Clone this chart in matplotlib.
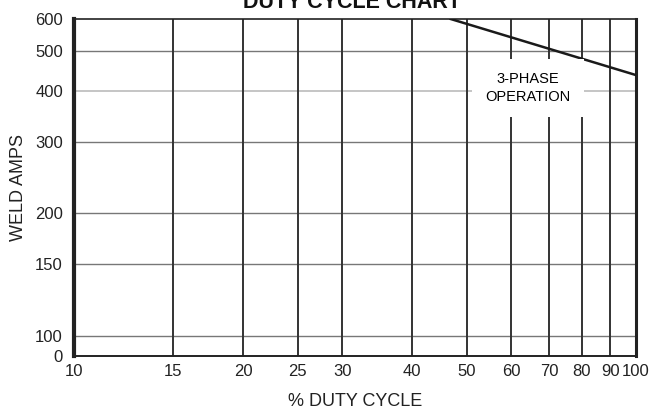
import matplotlib.pyplot as plt
from matplotlib.ticker import FixedLocator, NullLocator

plt.rcParams['font.family'] = ['Liberation Sans', 'DejaVu Sans']

duty_ticks = [10, 15, 20, 25, 30, 40, 50, 60, 70, 80, 90, 100]
duty_lines = [15, 20, 25, 30, 40, 50, 60, 70, 80, 90, 100]
amp_ticks = [89.3, 100, 150, 200, 300, 400, 500, 600]
amp_labels = ['0', '100', '150', '200', '300', '400', '500', '600']
amp_grid = [100, 150, 200, 300, 500]

# rating line (3-phase)
duty = [46.8, 100]
amps = [600, 437]

fig = plt.figure(figsize=(6.52, 4.18), dpi=100)
ax = fig.add_axes([74/652, 1-356/418, (636-74)/652, (356-19)/418])
ax.set_xscale('log')
ax.set_yscale('log')
ax.set_xlim(10, 100)
ax.set_ylim(89.3, 600)

for h in amp_grid:
    ax.axhline(h, color='#777777', lw=1.0, zorder=1)
ax.axhline(400, color='#bbbbbb', lw=1.2, zorder=1)
for d in duty_lines:
    ax.axvline(d, color='#333333', lw=1.4, zorder=1)

ax.plot(duty, amps, color='#1a1a1a', lw=1.8, zorder=3)

# label box sits over the grid, in pixel coords
ax.text(528, 418-88, '3-PHASE\nOPERATION', transform=None, fontsize=10.5,
        ha='center', va='center', linespacing=1.3, zorder=4,
        bbox=dict(boxstyle='square,pad=0.9', fc='white', ec='none'))

ax.xaxis.set_major_locator(FixedLocator(duty_ticks))
ax.xaxis.set_minor_locator(NullLocator())
ax.set_xticklabels([str(t) for t in duty_ticks])
ax.yaxis.set_major_locator(FixedLocator(amp_ticks))
ax.yaxis.set_minor_locator(NullLocator())
ax.set_yticklabels(amp_labels)
ax.tick_params(length=0, labelsize=12, colors='#222222')
ax.tick_params(axis='x', pad=6)
ax.tick_params(axis='y', pad=8)

for s in ax.spines.values():
    s.set_color('#222222')
ax.spines['left'].set_linewidth(3)
ax.spines['right'].set_linewidth(2.2)
ax.spines['top'].set_linewidth(1.2)
ax.spines['bottom'].set_linewidth(1.4)

ax.set_xlabel('% DUTY CYCLE', fontsize=13, color='#222222', labelpad=10)
ax.set_ylabel('WELD AMPS', fontsize=13, color='#222222', labelpad=6)

fig.text(352/652, 1-3/418, 'DUTY CYCLE CHART', fontsize=15.5, fontweight='bold',
         ha='center', va='center', color='#111111')

fig.savefig('out.png', dpi=100)
